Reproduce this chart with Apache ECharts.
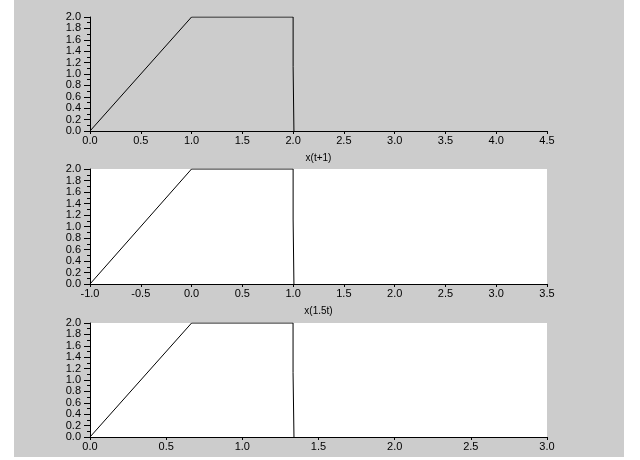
<!DOCTYPE html>
<html><head><meta charset="utf-8">
<script src="https://cdn.jsdelivr.net/npm/echarts@6/dist/echarts.min.js"></script>
<style>html,body{margin:0;padding:0;background:#fff}#c{width:640px;height:460px}</style>
</head><body><div id="c"></div>
<script>
// Panel 1: x(t+1)
const t1 = [0, 1, 2, 2, 2.008, 2.008];
const v1 = [0, 2, 2, 1.13, 1.13, 0];
// Panel 2: x(1.5t)
const t2 = [-1, 0, 1, 1, 1.008, 1.008];
const v2 = [0, 2, 2, 1.13, 1.13, 0];
// Panel 3
const t3 = [0, 0.667, 1.333, 1.333, 1.339, 1.339];
const v3 = [0, 2, 2, 1.13, 1.13, 0];

const xRanges = [[0, 4.5], [-1, 3.5], [0, 3]];
const xNames = ['x(t+1)', 'x(1.5t)', ''];

const font = 'Liberation Sans, Arial, sans-serif';
const chart = echarts.init(document.getElementById('c'));
const tops = [17, 169, 323];
const heights = [114, 115, 114];
const grids = tops.map((t, i) => ({
  left: 90, width: 457, top: t, height: heights[i],
  show: i > 0, backgroundColor: '#ffffff', borderWidth: 0
}));
const xAxes = xRanges.map((r, i) => ({
  type: 'value', gridIndex: i, min: r[0], max: r[1], interval: 0.5,
  name: xNames[i], nameLocation: 'middle', nameGap: 22,
  nameTextStyle: {fontFamily: font, fontSize: 10, color: '#000'},
  axisLine: {show: true, onZero: false, lineStyle: {color: '#000', width: 1}},
  axisTick: {show: true, length: 3, lineStyle: {color: '#000'}},
  axisLabel: {fontFamily: font, fontSize: 11, color: '#000', margin: 4,
    formatter: v => v.toFixed(1)},
  splitLine: {show: false}
}));
const yAxes = [0, 1, 2].map(i => ({
  type: 'value', gridIndex: i, min: 0, max: 2, interval: 0.2,
  axisLine: {show: true, onZero: false, lineStyle: {color: '#000', width: 1}},
  axisTick: {show: true, length: 6, lineStyle: {color: '#000'}},
  minorTick: {show: true, splitNumber: 2, length: 3, lineStyle: {color: '#000'}},
  axisLabel: {fontFamily: font, fontSize: 11, color: '#000', margin: 9,
    formatter: v => v.toFixed(1)},
  splitLine: {show: false}
}));
const mk = (xs, ys) => xs.map((x, k) => [x, ys[k]]);
const datas = [mk(t1, v1), mk(t2, v2), mk(t3, v3)];
chart.setOption({
  animation: false,
  backgroundColor: '#ffffff',
  graphic: [{type: 'rect', z: -10, shape: {x: 14, y: 0, width: 610, height: 457},
    style: {fill: '#cccccc'}}],
  grid: grids, xAxis: xAxes, yAxis: yAxes,
  series: datas.map((d, i) => ({
    type: 'line', xAxisIndex: i, yAxisIndex: i, data: d, showSymbol: false,
    symbol: 'none', lineStyle: {color: '#000', width: 1}, silent: true
  }))
});
</script></body></html>
